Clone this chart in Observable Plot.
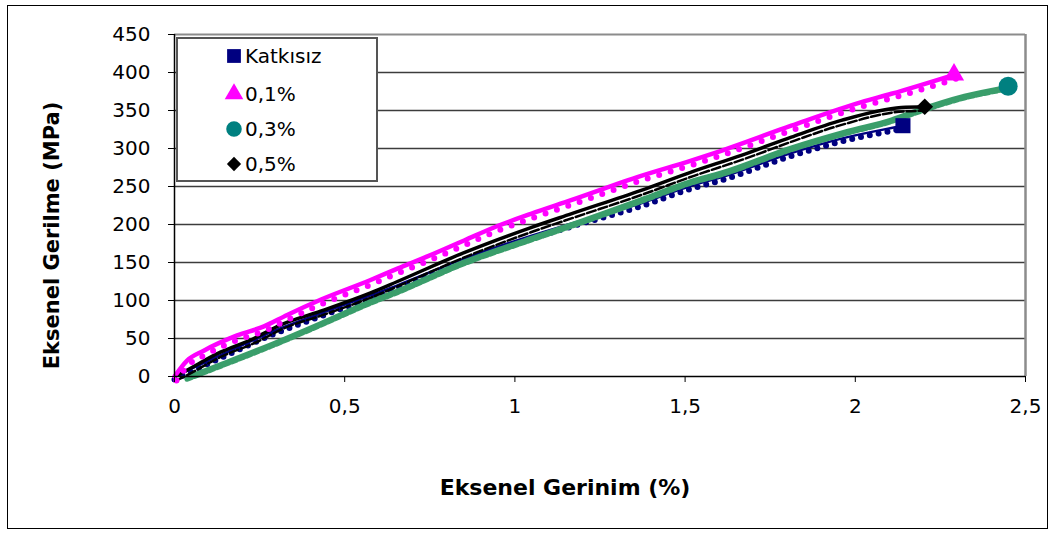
<!DOCTYPE html>
<html>
<head>
<meta charset="utf-8">
<script src="https://cdn.jsdelivr.net/npm/d3@7"></script>
<script src="https://cdn.jsdelivr.net/npm/@observablehq/plot@0.6"></script>
<style>
  html, body { margin: 0; padding: 0; background: #fff; }
  #wrap { position: relative; width: 1057px; height: 536px; overflow: hidden; font-family: "DejaVu Sans", sans-serif; }
  #border { position: absolute; left: 7px; top: 5px; width: 1041px; height: 524px; border: 1.5px solid #000; box-sizing: border-box; }
  #chart { position: absolute; left: 0; top: 0; }
  #legend { position: absolute; left: 176px; top: 37px; width: 202px; height: 145px; border: 2px solid #555; background: #fff; box-sizing: border-box; }
  .row { position: absolute; left: 0; height: 30px; display: flex; align-items: center; font-size: 20px; color: #000; }
  .row svg { position: absolute; left: 45px; }
  .row span { position: absolute; left: 67px; white-space: nowrap; }
</style>
</head>
<body>
<div id="wrap">
  <div id="border"></div>
  <div id="chart"></div>
  <div id="legend"></div>
</div>
<script>
// ---- data ----
const seriesNames = ["Katkısız", "0,1%", "0,3%", "0,5%"];

const katkisizX = [0, 0.135, 0.282, 0.429, 0.655, 0.851, 1.047, 1.165, 1.371, 1.518, 1.606, 1.812, 1.959, 2.106, 2.14];
const katkisizY = [0, 28, 58, 83, 120, 155, 185, 201, 228, 251, 262, 294, 313, 327, 330];

const p01X = [0, 0.037, 0.086, 0.184, 0.263, 0.331, 0.429, 0.576, 0.655, 0.743, 0.851, 0.949, 1.047, 1.165, 1.371, 1.518, 1.606, 1.812, 2.018, 2.106, 2.29];
const p01Y = [0, 21, 34, 54, 66, 81, 101, 127, 142, 158, 179, 198, 214, 232, 264, 284, 297, 330, 361, 372, 397];

const p03X = [0.037, 0.135, 0.282, 0.429, 0.576, 0.655, 0.851, 1.047, 1.165, 1.371, 1.518, 1.606, 1.812, 1.978, 2.106, 2.175, 2.32, 2.449];
const p03Y = [0, 17, 43, 71, 100, 114, 152, 183, 201, 234, 258, 269, 302, 324, 339, 350, 370, 382];

const p05X = [0, 0.018, 0.135, 0.233, 0.312, 0.429, 0.576, 0.655, 0.851, 1.047, 1.165, 1.371, 1.518, 1.665, 1.812, 1.959, 2.135, 2.204];
const p05Y = [0, 4, 32, 50, 68, 86, 110, 125, 163, 196, 214, 245, 269, 291, 315, 337, 354, 355];

const xTicks = [0, 0.5, 1, 1.5, 2, 2.5];
const yTicks = [0, 50, 100, 150, 200, 250, 300, 350, 400, 450];
const xLabel = "Eksenel Gerinim (%)";
const yLabel = "Eksenel Gerilme (MPa)";

const colors = { navy: "#000080", magenta: "#ff00ff", teal: "#008080", green: "#3a9e6b", black: "#000000" };

const toRows = (xs, ys) => xs.map((x, i) => ({ x, y: ys[i] }));
const katkisiz = toRows(katkisizX, katkisizY);
const p01 = toRows(p01X, p01Y);
const p03 = toRows(p03X, p03Y);
const p05 = toRows(p05X, p05Y);
const last = a => [a[a.length - 1]];
const fmt = d => String(d).replace(".", ",");

const curve = "monotone-x";

const chart = Plot.plot({
  width: 1057,
  height: 536,
  marginLeft: 174,
  marginRight: 32,
  marginTop: 34,
  marginBottom: 160,
  x: { domain: [0, 2.5] },
  y: { domain: [0, 450] },
  style: { fontFamily: "DejaVu Sans, sans-serif", fontSize: "20px", background: "transparent", color: "#000", overflow: "visible" },
  marks: [
    Plot.ruleY(yTicks.filter(d => d > 0 && d < 450), { stroke: "#3c3c3c", strokeWidth: 1.5 }),
    Plot.ruleY([450], { stroke: "#8c8c8c", strokeWidth: 2 }),
    Plot.ruleX([2.5], { stroke: "#8c8c8c", strokeWidth: 2.5 }),

    // Katkısız
    Plot.line(katkisiz, { x: "x", y: "y", stroke: colors.navy, strokeWidth: 2.5, curve }),
    Plot.line(katkisiz, { x: "x", y: "y", stroke: colors.navy, strokeWidth: 6, strokeDasharray: "0 9", strokeLinecap: "round", dy: 3, curve }),
    // 0,3%
    Plot.line(p03, { x: "x", y: "y", stroke: colors.green, strokeWidth: 3, curve }),
    Plot.line(p03, { x: "x", y: "y", stroke: colors.green, strokeWidth: 5.5, strokeDasharray: "5 3", dy: 2.5, curve }),
    // 0,5%
    Plot.line(p05, { x: "x", y: "y", stroke: colors.black, strokeWidth: 3.5, curve }),
    Plot.line(p05, { x: "x", y: "y", stroke: colors.black, strokeWidth: 2.5, strokeDasharray: "9 3", dy: 4, dx: 2, curve }),
    // 0,1%
    Plot.line(p01, { x: "x", y: "y", stroke: colors.magenta, strokeWidth: 4.5, curve }),
    Plot.line(p01, { x: "x", y: "y", stroke: colors.magenta, strokeWidth: 6, strokeDasharray: "0 12", strokeLinecap: "round", dy: 4, dx: 2, curve }),

    Plot.ruleX([0], { stroke: "#000", strokeWidth: 1.5 }),
    Plot.ruleY([0], { stroke: "#000", strokeWidth: 1.5 }),
    Plot.axisX({ ticks: xTicks, tickFormat: fmt, tickSize: 6, tickPadding: 16, label: null, fontSize: 20 }),
    Plot.axisY({ ticks: yTicks, tickSize: 6, tickPadding: 18, label: null, fontSize: 20 }),

    Plot.dot(last(katkisiz), { x: "x", y: "y", symbol: "square", r: 8.5, fill: colors.navy }),
    Plot.dot(last(p01), { x: "x", y: "y", symbol: "triangle", r: 7.5, fill: colors.magenta }),
    Plot.dot(last(p03), { x: "x", y: "y", symbol: "circle", r: 9.5, fill: colors.teal }),
    Plot.dot(last(p05), { x: "x", y: "y", symbol: "diamond2", r: 7.5, fill: colors.black }),

    Plot.text([xLabel], { text: d => d, frameAnchor: "bottom", lineAnchor: "middle", textAnchor: "middle", dx: -35, dy: 111, fontWeight: "bold", fontSize: 22 }),
    Plot.text([yLabel], { text: d => d, frameAnchor: "left", lineAnchor: "middle", textAnchor: "middle", rotate: -90, dx: -122, dy: 30, fontWeight: "bold", fontSize: 21 })
  ]
});
document.getElementById("chart").appendChild(chart);

// ---- legend ----
const legendSymbols = [
  { sym: d3.symbolSquare, size: 190, color: colors.navy },
  { sym: d3.symbolTriangle, size: 150, color: colors.magenta },
  { sym: d3.symbolCircle, size: 190, color: colors.teal },
  { sym: d3.symbolDiamond2, size: 130, color: colors.black }
];
const rowCenters = [17, 55, 90, 125];
const legend = d3.select("#legend");
seriesNames.forEach((name, i) => {
  const row = legend.append("div").attr("class", "row").style("top", (rowCenters[i] - 15) + "px");
  const s = row.append("svg").attr("width", 22).attr("height", 22).style("top", "4px");
  s.append("path").attr("transform", "translate(11,11)")
    .attr("d", d3.symbol(legendSymbols[i].sym, legendSymbols[i].size)())
    .attr("fill", legendSymbols[i].color);
  row.append("span").text(name);
});
</script>
</body>
</html>
